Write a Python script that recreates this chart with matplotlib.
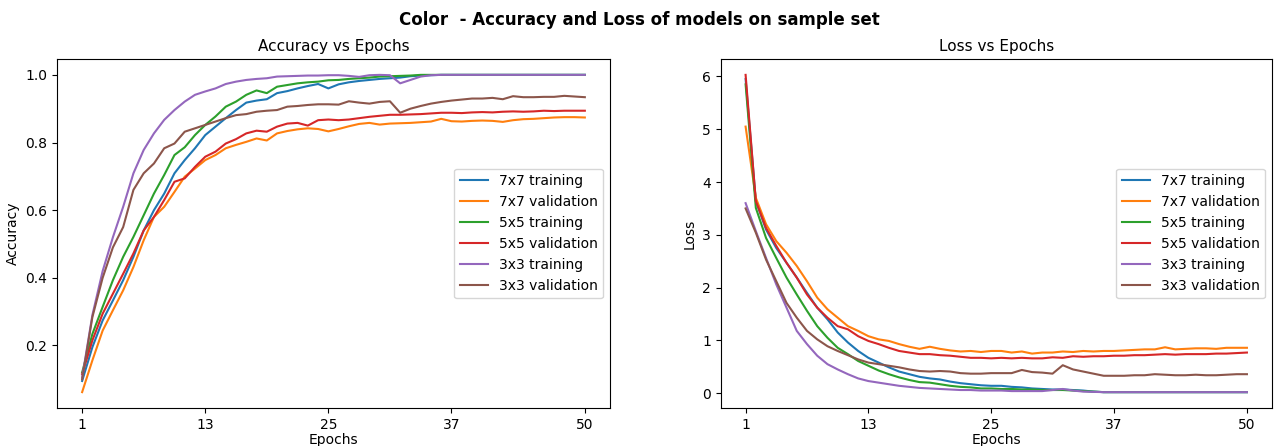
import numpy as np
import matplotlib
matplotlib.use('Agg')
import matplotlib.pyplot as plt

epochs = list(range(1, 51))
xtick_vals = [1, 13, 25, 37, 50]
labels = ['7x7 training', '7x7 validation', '5x5 training',
          '5x5 validation', '3x3 training', '3x3 validation']

# accuracy per epoch
acc_7x7_train = [0.095, 0.195, 0.274, 0.333, 0.393, 0.462, 0.54, 0.60, 0.649, 0.709,
                 0.748, 0.783, 0.822, 0.847, 0.872, 0.896, 0.918, 0.924, 0.928, 0.946,
                 0.952, 0.96, 0.967, 0.973, 0.96, 0.972, 0.978, 0.982, 0.985, 0.988,
                 0.99, 0.992, 0.996, 0.998, 0.999, 1.0, 1.0, 1.0, 1.0, 1.0,
                 1.0, 1.0, 1.0, 1.0, 1.0, 1.0, 1.0, 1.0, 1.0, 1.0]
acc_7x7_val = [0.062, 0.156, 0.244, 0.304, 0.363, 0.432, 0.511, 0.58, 0.61, 0.654,
               0.699, 0.723, 0.748, 0.763, 0.783, 0.793, 0.802, 0.812, 0.806, 0.827,
               0.834, 0.839, 0.842, 0.840, 0.833, 0.84, 0.848, 0.855, 0.858, 0.853,
               0.856, 0.857, 0.858, 0.86, 0.862, 0.87, 0.863, 0.862, 0.864, 0.865,
               0.864, 0.861, 0.866, 0.869, 0.87, 0.872, 0.874, 0.875, 0.875, 0.874]
acc_5x5_train = [0.12, 0.234, 0.314, 0.393, 0.462, 0.521, 0.585, 0.649, 0.704, 0.763,
                 0.786, 0.822, 0.852, 0.877, 0.906, 0.921, 0.941, 0.954, 0.946, 0.965,
                 0.97, 0.975, 0.978, 0.98, 0.984, 0.985, 0.988, 0.99, 0.992, 0.995,
                 0.996, 0.997, 0.998, 1.0, 1.0, 1.0, 1.0, 1.0, 1.0, 1.0,
                 1.0, 1.0, 1.0, 1.0, 1.0, 1.0, 1.0, 1.0, 1.0, 1.0]
acc_5x5_val = [0.115, 0.215, 0.294, 0.353, 0.412, 0.472, 0.54, 0.58, 0.63, 0.684,
               0.694, 0.728, 0.758, 0.773, 0.797, 0.81, 0.827, 0.835, 0.832, 0.847,
               0.856, 0.858, 0.85, 0.866, 0.868, 0.866, 0.868, 0.872, 0.876, 0.879,
               0.882, 0.882, 0.883, 0.884, 0.886, 0.888, 0.888, 0.887, 0.889, 0.89,
               0.889, 0.891, 0.892, 0.891, 0.892, 0.894, 0.893, 0.894, 0.894, 0.894]
acc_3x3_train = [0.105, 0.29, 0.42, 0.52, 0.61, 0.709, 0.778, 0.827, 0.867, 0.896,
                 0.921, 0.941, 0.951, 0.96, 0.973, 0.98, 0.985, 0.988, 0.99, 0.995,
                 0.996, 0.997, 0.998, 0.998, 0.999, 0.999, 0.997, 0.994, 0.999, 1.0,
                 0.999, 0.975, 0.985, 0.995, 0.999, 1.0, 1.0, 1.0, 1.0, 1.0,
                 1.0, 1.0, 1.0, 1.0, 1.0, 1.0, 1.0, 1.0, 1.0, 1.0]
acc_3x3_val = [0.10, 0.284, 0.40, 0.49, 0.55, 0.66, 0.709, 0.738, 0.783, 0.797,
               0.832, 0.842, 0.852, 0.862, 0.872, 0.881, 0.884, 0.891, 0.894, 0.896,
               0.906, 0.908, 0.911, 0.913, 0.913, 0.912, 0.922, 0.918, 0.915, 0.92,
               0.922, 0.888, 0.9, 0.908, 0.915, 0.92, 0.924, 0.927, 0.93, 0.93,
               0.932, 0.928, 0.937, 0.934, 0.934, 0.935, 0.935, 0.938, 0.936, 0.934]

# loss per epoch
loss_7x7_train = [5.95, 3.64, 3.1, 2.75, 2.47, 2.19, 1.9, 1.62, 1.4, 1.15,
                  0.96, 0.8, 0.67, 0.58, 0.49, 0.41, 0.36, 0.31, 0.28, 0.26,
                  0.22, 0.19, 0.17, 0.15, 0.14, 0.14, 0.12, 0.11, 0.09, 0.08,
                  0.07, 0.07, 0.06, 0.05, 0.03, 0.02, 0.02, 0.02, 0.02, 0.02,
                  0.02, 0.02, 0.02, 0.02, 0.02, 0.02, 0.02, 0.02, 0.02, 0.02]
loss_7x7_val = [5.05, 3.7, 3.2, 2.88, 2.66, 2.41, 2.12, 1.81, 1.59, 1.43,
                1.27, 1.18, 1.08, 1.02, 0.99, 0.93, 0.88, 0.84, 0.88, 0.84,
                0.81, 0.79, 0.8, 0.78, 0.8, 0.8, 0.77, 0.79, 0.75, 0.77,
                0.77, 0.79, 0.78, 0.8, 0.79, 0.8, 0.8, 0.81, 0.82, 0.83,
                0.83, 0.87, 0.83, 0.84, 0.85, 0.85, 0.84, 0.86, 0.86, 0.86]
loss_5x5_train = [5.85, 3.51, 2.94, 2.56, 2.19, 1.87, 1.56, 1.27, 1.05, 0.86,
                  0.74, 0.61, 0.52, 0.43, 0.36, 0.3, 0.25, 0.21, 0.2, 0.17,
                  0.14, 0.12, 0.11, 0.09, 0.09, 0.08, 0.08, 0.07, 0.07, 0.06,
                  0.06, 0.06, 0.05, 0.04, 0.03, 0.02, 0.02, 0.02, 0.02, 0.02,
                  0.02, 0.02, 0.02, 0.02, 0.02, 0.02, 0.02, 0.02, 0.02, 0.02]
loss_5x5_val = [6.03, 3.64, 3.13, 2.79, 2.47, 2.19, 1.87, 1.62, 1.43, 1.27,
                1.21, 1.08, 0.99, 0.93, 0.86, 0.8, 0.77, 0.74, 0.74, 0.72,
                0.71, 0.69, 0.67, 0.67, 0.66, 0.67, 0.66, 0.67, 0.66, 0.66,
                0.68, 0.67, 0.7, 0.69, 0.7, 0.7, 0.71, 0.71, 0.72, 0.72,
                0.73, 0.74, 0.73, 0.74, 0.74, 0.74, 0.75, 0.75, 0.76, 0.77]
loss_3x3_train = [3.6, 3.07, 2.56, 2.06, 1.62, 1.18, 0.93, 0.71, 0.55, 0.45,
                  0.36, 0.28, 0.23, 0.2, 0.17, 0.14, 0.12, 0.1, 0.09, 0.08,
                  0.07, 0.06, 0.06, 0.05, 0.05, 0.05, 0.04, 0.04, 0.04, 0.04,
                  0.06, 0.08, 0.05, 0.03, 0.025, 0.02, 0.02, 0.02, 0.02, 0.02,
                  0.02, 0.02, 0.02, 0.02, 0.02, 0.02, 0.02, 0.02, 0.02, 0.02]
loss_3x3_val = [3.5, 3.04, 2.53, 2.12, 1.71, 1.43, 1.18, 1.02, 0.89, 0.8,
                0.72, 0.64, 0.58, 0.55, 0.52, 0.49, 0.45, 0.42, 0.41, 0.42,
                0.41, 0.38, 0.37, 0.37, 0.38, 0.38, 0.38, 0.44, 0.4, 0.39,
                0.37, 0.53, 0.45, 0.41, 0.37, 0.33, 0.33, 0.33, 0.34, 0.34,
                0.36, 0.35, 0.34, 0.34, 0.35, 0.34, 0.34, 0.35, 0.36, 0.36]

acc_series = [acc_7x7_train, acc_7x7_val, acc_5x5_train,
              acc_5x5_val, acc_3x3_train, acc_3x3_val]
loss_series = [loss_7x7_train, loss_7x7_val, loss_5x5_train,
               loss_5x5_val, loss_3x3_train, loss_3x3_val]


def draw(ax, series, title, ylabel):
    for vals, lab in zip(series, labels):
        ax.plot(epochs, vals, label=lab)
    ax.set_title(title, fontsize=11)
    ax.set_xlabel('Epochs', fontsize=10, labelpad=1)
    ax.set_ylabel(ylabel, fontsize=10)
    ax.set_xticks(xtick_vals)
    ax.tick_params(labelsize=10)
    ax.legend(loc='center right', fontsize=10)


fig = plt.figure(figsize=(12.78, 4.46), dpi=100)
ax1 = fig.add_axes([0.0446, 0.0852, 0.4327, 0.7825])
ax2 = fig.add_axes([0.5638, 0.0852, 0.4315, 0.7825])
draw(ax1, acc_series, 'Accuracy vs Epochs', 'Accuracy')
draw(ax2, loss_series, 'Loss vs Epochs', 'Loss')
fig.suptitle('Color  - Accuracy and Loss of models on sample set',
             fontsize=12, fontweight='bold', y=0.975)
fig.savefig('out.png', dpi=100)
